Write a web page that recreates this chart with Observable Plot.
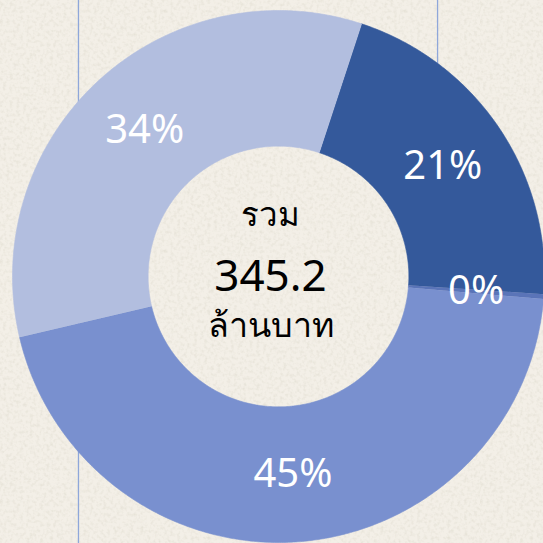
<!DOCTYPE html>
<html>
<head>
<meta charset="utf-8">
<script src="https://cdn.jsdelivr.net/npm/d3@7"></script>
<script src="https://cdn.jsdelivr.net/npm/@observablehq/plot@0.6"></script>
<style>
  html, body { margin: 0; padding: 0; }
  body {
    width: 543px; height: 543px; overflow: hidden;
    background-color: #F3EFE7;
    background-image: url("data:image/svg+xml;utf8,%3Csvg xmlns='http://www.w3.org/2000/svg' width='240' height='240'%3E%3Cfilter id='n'%3E%3CfeTurbulence type='fractalNoise' baseFrequency='0.3' numOctaves='2' seed='3' stitchTiles='stitch'/%3E%3CfeColorMatrix values='0 0 0 0 0.80  0 0 0 0 0.77  0 0 0 0 0.69  2.2 0 0 0 -0.95'/%3E%3C/filter%3E%3Crect width='240' height='240' filter='url(%23n)'/%3E%3C/svg%3E");
  }
  #chart { position: absolute; left: 0; top: 0; }
</style>
</head>
<body>
<div id="chart"></div>
<script>
// ---- data (million baht) ----
const categories = ["กลุ่ม 1", "กลุ่ม 2", "กลุ่ม 3", "กลุ่ม 4"];
const values = [72.5, 1.0, 155.3, 116.4];
const colors = ["#34599B", "#5A74B8", "#7990CF", "#B2BEDF"];
const totalLabel = "345.2";
const centerTop = "รวม";
const centerBottom = "ล้านบาท";
const startAngleDeg = 18.2;   // first slice starts here, clockwise from 12 o'clock
const innerRatio = 0.49;
const gridLines = [{x: -0.752, y1: 1.05, y2: -1.05}, {x: 0.598, y1: 1.05, y2: 0}];

// ---- derived geometry (in unit data space) ----
const total = d3.sum(values);
const slices = [];
let acc = startAngleDeg * Math.PI / 180;
values.forEach((v, i) => {
  const a0 = acc, a1 = acc + v / total * 2 * Math.PI;
  acc = a1;
  slices.push({category: categories[i], value: v, a0, a1,
    pct: Math.round(v / total * 100) + "%"});
});

const ring = [];
for (const s of slices) {
  const n = Math.max(2, Math.ceil((s.a1 - s.a0) / (Math.PI / 360)));
  for (let k = 0; k <= n; k++) {
    const a = s.a0 + (s.a1 - s.a0) * k / n;
    ring.push({category: s.category, x: Math.sin(a), y: Math.cos(a)});
  }
  for (let k = n; k >= 0; k--) {
    const a = s.a0 + (s.a1 - s.a0) * k / n;
    ring.push({category: s.category, x: innerRatio * Math.sin(a), y: innerRatio * Math.cos(a)});
  }
}

const labelR = (1 + innerRatio) / 2;
const labels = slices.map(s => {
  const a = (s.a0 + s.a1) / 2;
  return {x: labelR * Math.sin(a), y: labelR * Math.cos(a), text: s.pct};
});

const font = "'Noto Sans', 'DejaVu Sans', sans-serif";

const chart = Plot.plot({
  width: 543,
  height: 543,
  margin: 0,
  x: {domain: [-1, 1], range: [12, 544], axis: null},
  y: {domain: [-1, 1], range: [542, 10], axis: null},
  color: {domain: categories, range: colors},
  style: {background: "transparent", fontFamily: font, overflow: "visible"},
  marks: [
    Plot.ruleX(gridLines, {x: "x", y1: "y1", y2: "y2", stroke: "#8FA7DA", strokeWidth: 1.3}),
    Plot.line(ring, {x: "x", y: "y", z: "category", fill: "category", stroke: "category", strokeWidth: 0.6, curve: "linear"}),
    Plot.text(labels, {x: "x", y: "y", text: "text", fill: "white", fontSize: 40, fontFamily: font}),
    Plot.text([centerTop], {frameAnchor: "middle", text: d => d, dx: -1.5, dy: -57, fontSize: 33, fill: "black", fontFamily: font}),
    Plot.text([totalLabel], {frameAnchor: "middle", text: d => d, dx: -1.5, dy: 4.5, fontSize: 44, fill: "black", fontFamily: font}),
    Plot.text([centerBottom], {frameAnchor: "middle", text: d => d, dx: -1.5, dy: 54, fontSize: 34, fill: "black", fontFamily: font})
  ]
});
document.getElementById("chart").appendChild(chart);
</script>
</body>
</html>
